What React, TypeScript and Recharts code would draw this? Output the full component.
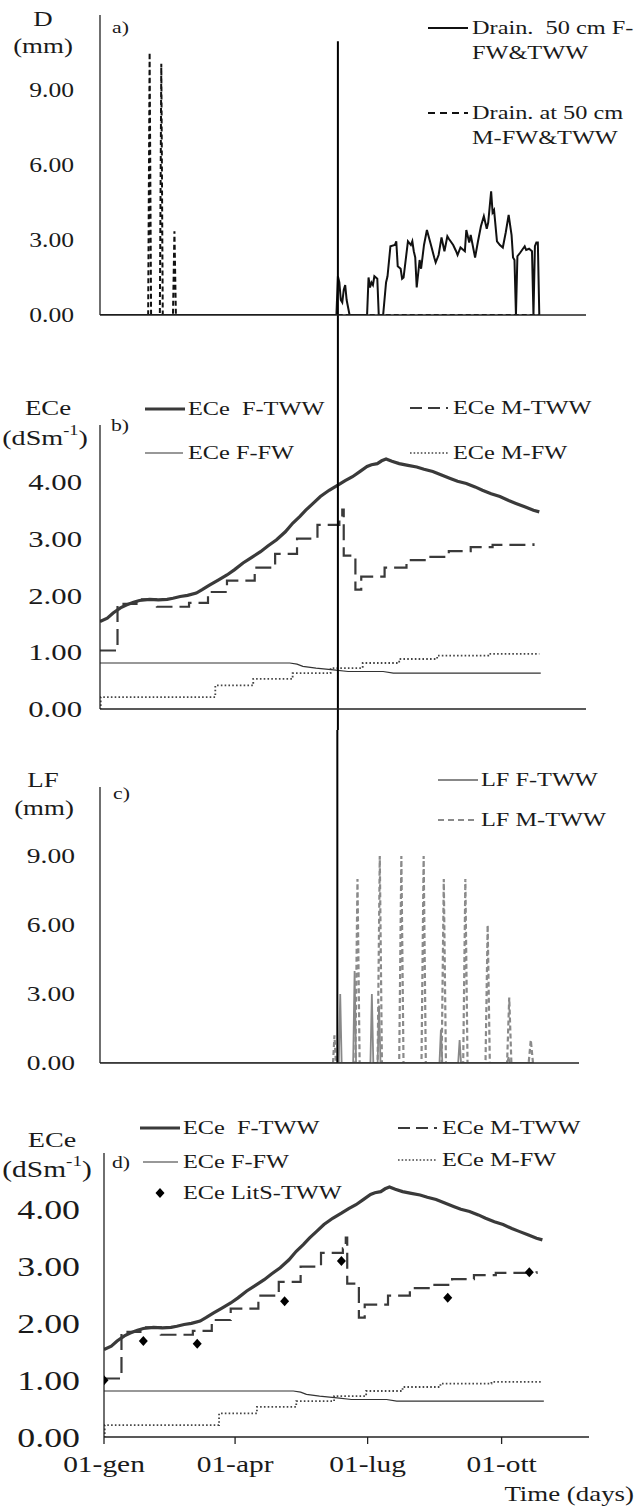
import React from 'react';
import { ComposedChart, Line, XAxis, YAxis, ReferenceLine } from 'recharts';

const FONT = '"Liberation Serif", "Times New Roman", serif';
const INK = '#1a1a1a';
const SX = 1.28; // horizontal stretch of the reference typography

// x axis: day of year
const MONTH_TICKS = [0, 90, 181, 273];
const MONTH_LABELS = ['01-gen', '01-apr', '01-lug', '01-ott'];
const X_DOMAIN: [number, number] = [0, 333];

// vertical marker (day of year)
const VLINE_DAY_AB = 163;
const VLINE_DAY_C = 165;

// ---- panel a) drainage at 50 cm (mm) ----
const DRAIN_F_FW_TWW = [
  [0, 0], [162, 0], [163, 1.55], [164, 1.3], [165, 0.6], [166, 0.5], [167, 1.0], [168, 1.2], [169, 0.6], [170, 0.3], [171, 0],
  [183, 0], [184, 1.5], [185, 1.1], [186, 1.3], [187, 1.2], [188, 1.55], [190, 1.45], [191, 0], [194, 0], [196, 1.3], [197, 1.55],
  [199, 2.75], [202, 2.8], [203, 2.95], [204, 1.95], [206, 1.85], [207, 1.45], [208, 1.5], [211, 2.95], [213, 2.8], [214, 2.95],
  [215, 2.55], [216, 2.3], [217, 1.1], [219, 2.2], [220, 1.85], [222, 2.8], [224, 3.4], [227, 2.75], [229, 2.3], [230, 2.1],
  [232, 2.4], [234, 3.1], [236, 2.55], [238, 3.15], [239, 3.05], [242, 2.8], [244, 2.55], [245, 2.4], [247, 2.7], [250, 2.55],
  [251, 3.4], [253, 2.9], [254, 3.2], [257, 2.3], [259, 2.95], [261, 3.55], [263, 3.95], [265, 3.45], [266, 3.7], [268, 4.95],
  [269, 4.1], [270, 4.2], [272, 2.95], [274, 2.8], [276, 2.7], [278, 3.3], [280, 4.0], [282, 3.2], [283, 2.3], [284, 2.2],
  [285, 0], [286, 2.35], [288, 2.5], [291, 2.75], [292, 2.6], [294, 2.65], [296, 2.55], [297, 0], [298, 2.75], [299, 2.9],
  [300, 2.9], [301, 0],
];
const DRAIN_M_FW_TWW = [
  [0, 0], [33, 0], [34, 10.5], [35, 0], [41, 0], [42, 10.05], [43, 0], [50, 0], [51, 3.35], [52, 0], [301, 0],
];
const D_TICKS = [0, 3, 6, 9];

// ---- panels b) and d) ECe (dS/m) ----
const ECE_F_TWW = [
  [0, 1.54], [5, 1.6], [9, 1.69], [14, 1.78], [18, 1.83], [23, 1.88], [27, 1.91], [34, 1.93], [40, 1.92], [46, 1.93],
  [50, 1.95], [55, 1.98], [60, 2.0], [66, 2.04], [70, 2.1], [75, 2.18], [81, 2.27], [87, 2.36], [92, 2.45], [98, 2.57],
  [104, 2.67], [110, 2.77], [115, 2.87], [121, 2.98], [127, 3.12], [132, 3.27], [137, 3.39], [141, 3.5], [146, 3.62],
  [151, 3.74], [157, 3.85], [163, 3.94], [168, 4.02], [173, 4.09], [178, 4.18], [183, 4.27], [186, 4.3], [190, 4.32],
  [193, 4.37], [196, 4.4], [200, 4.36], [205, 4.32], [211, 4.29], [217, 4.26], [222, 4.22], [228, 4.18], [234, 4.12],
  [240, 4.06], [245, 4.01], [251, 3.97], [257, 3.91], [262, 3.85], [268, 3.79], [274, 3.74], [280, 3.67], [285, 3.62],
  [291, 3.56], [297, 3.5], [301, 3.47],
];
const ECE_M_TWW = [
  [0, 1.03], [12, 1.85], [25, 1.93], [39, 1.8], [61, 1.87], [74, 2.06], [87, 2.26], [106, 2.49], [120, 2.73], [135, 3.0],
  [149, 3.24], [164, 3.32], [166, 3.51], [167, 2.7], [175, 2.1], [179, 2.33], [195, 2.49], [210, 2.62], [225, 2.68],
  [239, 2.78], [254, 2.85], [269, 2.89], [297, 2.92],
];
const ECE_F_FW = [
  [0, 0.81], [130, 0.81], [135, 0.79], [139, 0.75], [148, 0.72], [160, 0.69], [170, 0.66], [194, 0.66], [201, 0.63], [302, 0.63],
];
const ECE_M_FW = [
  [0, 0], [0.5, 0.21], [79, 0.415], [105, 0.53], [132, 0.63], [158, 0.72], [180, 0.81], [205, 0.88], [231, 0.94], [266, 0.97], [301, 0.97],
];
const ECE_LITS_TWW = [
  [0, 1.0], [27, 1.69], [64, 1.64], [124, 2.39], [163, 3.1], [236, 2.45], [292, 2.9],
];
const ECE_TICKS = [0, 1, 2, 3, 4];

// ---- panel c) leaching fraction (mm) ----
const LF_F_TWW = [
  [0, 0], [166, 0], [167, 3.0], [168, 0], [176, 0], [177, 4.0], [178, 0], [188, 0], [189, 3.0], [190, 0], [193, 0], [194, 2.5],
  [195, 0], [236, 0], [237, 1.45], [238, 0], [249, 0], [250, 1.0], [251, 0], [283, 0], [284, 0.25], [285, 0], [301, 0],
];
const LF_M_TWW = [
  [162, 0], [163, 1.2], [164, 0], [177.5, 0], [179, 8.0], [180.5, 0], [193, 0], [194.5, 9.0], [196, 0], [208, 0], [209.5, 9.0],
  [211, 0], [223.5, 0], [225, 9.0], [226.5, 0], [237.5, 0], [239, 8.0], [240.5, 0], [252.5, 0], [254, 8.0], [255.5, 0],
  [268, 0], [269.5, 6.0], [271, 0], [283, 0], [284.5, 2.85], [286, 0], [298, 0], [299.5, 1.0], [301, 0],
];
const LF_TICKS = [0, 3, 6, 9];

type P = { d: number; v: number };
const pts = (a: number[][]): P[] => a.map(([d, v]) => ({ d, v }));

const fmt2 = (v: number) => Number(v).toFixed(2);
const monthLabel = (v: number) => {
  const i = MONTH_TICKS.indexOf(v);
  return i >= 0 ? MONTH_LABELS[i] : '';
};

const axisStroke = { stroke: '#222', strokeWidth: 1.3 };

// stretched serif text
const T = ({ x, y, size, children, anchor = 'middle', baseline = 'central' }: any) => (
  <text
    transform={`translate(${x},${y}) scale(${SX},1)`}
    x={0}
    y={0}
    fontSize={size}
    fontFamily={FONT}
    fill={INK}
    textAnchor={anchor}
    dominantBaseline={baseline}
    style={{ whiteSpace: 'pre' }}
  >
    {children}
  </text>
);

const Unit = ({ x, y, size }: any) => (
  <text
    transform={`translate(${x},${y}) scale(${SX},1)`}
    x={0}
    y={0}
    fontSize={size}
    fontFamily={FONT}
    fill={INK}
    textAnchor="middle"
    dominantBaseline="central"
  >
    <tspan>(dSm</tspan>
    <tspan fontSize={size * 0.65} dy={-size * 0.35}>-1</tspan>
    <tspan dy={size * 0.35}>)</tspan>
  </text>
);

const makeYTick = (size: number) => (p: any) => {
  const { x, y, payload } = p;
  return (
    <T x={x} y={y} size={size} anchor="end">{fmt2(payload.value)}</T>
  );
};

const makeXTick = (size: number) => (p: any) => {
  const { x, y, payload } = p;
  return (
    <T x={x} y={y} size={size} anchor="middle" baseline="hanging">{monthLabel(payload.value)}</T>
  );
};

const Diamond = (p: any) => {
  const { cx, cy, index } = p;
  if (cx == null || cy == null) return <g key={`dm-${index}`} />;
  return (
    <path
      key={`dm-${index}`}
      d={`M${cx},${cy - 5} L${cx + 4.5},${cy} L${cx},${cy + 5} L${cx - 4.5},${cy} Z`}
      fill="#000"
    />
  );
};

export default function App() {
  return (
    <div style={{ position: 'absolute', left: 0, top: 0, width: 636, height: 1508, background: '#fff', overflow: 'hidden' }}>
      {/* a) */}
      <div style={{ position: 'absolute', left: 0, top: 0 }}>
        <ComposedChart width={636} height={330} margin={{ top: 15, right: 50, bottom: 0, left: 0 }}>
          <XAxis type="number" dataKey="d" domain={X_DOMAIN} ticks={MONTH_TICKS} tick={false} tickSize={7}
            height={15} axisLine={axisStroke} tickLine={axisStroke} allowDataOverflow />
          <YAxis type="number" domain={[0, 12]} ticks={D_TICKS} width={100} tickLine={false} tickSize={0} tickMargin={26}
            tick={makeYTick(20)} axisLine={axisStroke} allowDataOverflow interval={0} />
          <Line data={pts(DRAIN_M_FW_TWW)} dataKey="v" type="linear" stroke="#111" strokeWidth={2}
            strokeDasharray="5 3" dot={false} activeDot={false} isAnimationActive={false} />
          <Line data={pts(DRAIN_F_FW_TWW)} dataKey="v" type="linear" stroke="#111" strokeWidth={2}
            dot={false} activeDot={false} isAnimationActive={false} />
          <ReferenceLine segment={[{ x: VLINE_DAY_AB, y: 10.95 }, { x: VLINE_DAY_AB, y: -2 }]} ifOverflow="visible"
            stroke="#000" strokeWidth={2} />
        </ComposedChart>
      </div>

      {/* b) */}
      <div style={{ position: 'absolute', left: 0, top: 330 }}>
        <ComposedChart width={636} height={400} margin={{ top: 95, right: 50, bottom: 0, left: 0 }}>
          <XAxis type="number" dataKey="d" domain={X_DOMAIN} ticks={MONTH_TICKS} tick={false} tickSize={7}
            height={21} axisLine={axisStroke} tickLine={axisStroke} allowDataOverflow />
          <YAxis type="number" domain={[0, 5]} ticks={ECE_TICKS} width={100} tickLine={false} tickSize={0} tickMargin={18}
            tick={makeYTick(24)} axisLine={axisStroke} allowDataOverflow interval={0} />
          <Line data={pts(ECE_M_FW)} dataKey="v" type="stepAfter" stroke="#444" strokeWidth={1.8}
            strokeDasharray="1.6 2.2" dot={false} activeDot={false} isAnimationActive={false} />
          <Line data={pts(ECE_F_FW)} dataKey="v" type="linear" stroke="#333" strokeWidth={1.2}
            dot={false} activeDot={false} isAnimationActive={false} />
          <Line data={pts(ECE_M_TWW)} dataKey="v" type="stepAfter" stroke="#3a3a3a" strokeWidth={2.2}
            strokeDasharray="16 7" dot={false} activeDot={false} isAnimationActive={false} />
          <Line data={pts(ECE_F_TWW)} dataKey="v" type="linear" stroke="#3a3a3a" strokeWidth={3.2}
            dot={false} activeDot={false} isAnimationActive={false} />
          <ReferenceLine segment={[{ x: VLINE_DAY_AB, y: 7.5 }, { x: VLINE_DAY_AB, y: -1 }]} ifOverflow="visible"
            stroke="#000" strokeWidth={2} />
        </ComposedChart>
      </div>

      {/* c) */}
      <div style={{ position: 'absolute', left: 0, top: 730 }}>
        <ComposedChart width={636} height={370} margin={{ top: 57, right: 57, bottom: 0, left: 0 }}>
          <XAxis type="number" dataKey="d" domain={X_DOMAIN} ticks={MONTH_TICKS} tick={false} tickSize={7}
            height={37} axisLine={axisStroke} tickLine={axisStroke} allowDataOverflow />
          <YAxis type="number" domain={[0, 12]} ticks={LF_TICKS} width={100} tickLine={false} tickSize={0} tickMargin={25}
            tick={makeYTick(21.5)} axisLine={axisStroke} allowDataOverflow interval={0} />
          <Line data={pts(LF_M_TWW)} dataKey="v" type="linear" stroke="#8a8a8a" strokeWidth={2.2}
            strokeDasharray="5 3" dot={false} activeDot={false} isAnimationActive={false} />
          <Line data={pts(LF_F_TWW)} dataKey="v" type="linear" stroke="#888" strokeWidth={1.8}
            dot={false} activeDot={false} isAnimationActive={false} />
          <ReferenceLine segment={[{ x: VLINE_DAY_C, y: 16 }, { x: VLINE_DAY_C, y: 0 }]} ifOverflow="visible"
            stroke="#000" strokeWidth={2} />
        </ComposedChart>
      </div>

      {/* d) */}
      <div style={{ position: 'absolute', left: 0, top: 1100 }}>
        <ComposedChart width={636} height={408} margin={{ top: 53, right: 47, bottom: 0, left: 0 }}>
          <XAxis type="number" dataKey="d" domain={X_DOMAIN} ticks={MONTH_TICKS} tick={makeXTick(23)}
            tickSize={7} tickMargin={11} height={71} axisLine={axisStroke} tickLine={axisStroke} allowDataOverflow interval={0} />
          <YAxis type="number" domain={[0, 5]} ticks={ECE_TICKS} width={104} tickLine={false} tickSize={0} tickMargin={24}
            tick={makeYTick(28)} axisLine={axisStroke} allowDataOverflow interval={0} />
          <Line data={pts(ECE_M_FW)} dataKey="v" type="stepAfter" stroke="#444" strokeWidth={1.8}
            strokeDasharray="1.6 2.2" dot={false} activeDot={false} isAnimationActive={false} />
          <Line data={pts(ECE_F_FW)} dataKey="v" type="linear" stroke="#333" strokeWidth={1.2}
            dot={false} activeDot={false} isAnimationActive={false} />
          <Line data={pts(ECE_M_TWW)} dataKey="v" type="stepAfter" stroke="#3a3a3a" strokeWidth={2.2}
            strokeDasharray="16 7" dot={false} activeDot={false} isAnimationActive={false} />
          <Line data={pts(ECE_F_TWW)} dataKey="v" type="linear" stroke="#3a3a3a" strokeWidth={3.2}
            dot={false} activeDot={false} isAnimationActive={false} />
          <Line data={pts(ECE_LITS_TWW)} dataKey="v" type="linear" stroke="none" strokeWidth={0}
            dot={Diamond} activeDot={false} isAnimationActive={false} />
        </ComposedChart>
      </div>

      {/* titles and legends */}
      <svg width={636} height={1508} style={{ position: 'absolute', left: 0, top: 0, pointerEvents: 'none' }}>
        {/* a */}
        <T x={43} y={19} size={21}>D</T>
        <T x={43} y={46} size={21}>(mm)</T>
        <T x={112} y={27} size={17} anchor="start">a)</T>
        <line x1={428} x2={468} y1={28} y2={28} stroke="#111" strokeWidth={2} />
        <T x={472} y={28} size={19} anchor="start">{'Drain.  50 cm F-'}</T>
        <T x={472} y={53} size={19} anchor="start">FW&amp;TWW</T>
        <line x1={428} x2={468} y1={113} y2={113} stroke="#111" strokeWidth={2} strokeDasharray="7 5" />
        <T x={472} y={113} size={19} anchor="start">Drain. at 50 cm</T>
        <T x={472} y={138} size={19} anchor="start">M-FW&amp;TWW</T>

        {/* b */}
        <T x={48} y={408} size={21}>ECe</T>
        <Unit x={45} y={437} size={22} />
        <T x={111} y={425} size={17} anchor="start">b)</T>
        <line x1={145} x2={185} y1={409} y2={409} stroke="#3a3a3a" strokeWidth={3.2} />
        <T x={188} y={409} size={19} anchor="start">{'ECe  F-TWW'}</T>
        <line x1={145} x2={183} y1={453} y2={453} stroke="#333" strokeWidth={1.2} />
        <T x={188} y={453} size={19} anchor="start">ECe F-FW</T>
        <line x1={410} x2={448} y1={408} y2={408} stroke="#3a3a3a" strokeWidth={2} strokeDasharray="12 6" />
        <T x={453} y={408} size={19} anchor="start">ECe M-TWW</T>
        <line x1={410} x2={448} y1={453} y2={453} stroke="#444" strokeWidth={1.6} strokeDasharray="1.6 2" />
        <T x={453} y={453} size={19} anchor="start">ECe M-FW</T>

        {/* c */}
        <T x={43} y={780} size={21}>LF</T>
        <T x={44} y={808} size={21}>(mm)</T>
        <T x={113} y={793} size={17} anchor="start">c)</T>
        <line x1={438} x2={478} y1={780} y2={780} stroke="#888" strokeWidth={1.8} />
        <T x={481} y={780} size={19} anchor="start">LF F-TWW</T>
        <line x1={438} x2={478} y1={820} y2={820} stroke="#8a8a8a" strokeWidth={2} strokeDasharray="6 4" />
        <T x={481} y={820} size={19} anchor="start">LF M-TWW</T>

        {/* d */}
        <T x={52} y={1139} size={22}>ECe</T>
        <Unit x={47} y={1169} size={23} />
        <T x={112} y={1162} size={17} anchor="start">d)</T>
        <line x1={140} x2={180} y1={1128} y2={1128} stroke="#3a3a3a" strokeWidth={3.2} />
        <T x={183} y={1128} size={19} anchor="start">{'ECe  F-TWW'}</T>
        <line x1={143} x2={178} y1={1162} y2={1162} stroke="#333" strokeWidth={1.2} />
        <T x={183} y={1162} size={19} anchor="start">ECe F-FW</T>
        <path d="M160,1188 L164.5,1193 L160,1198 L155.5,1193 Z" fill="#000" />
        <T x={183} y={1193} size={19} anchor="start">ECe LitS-TWW</T>
        <line x1={398} x2={437} y1={1128} y2={1128} stroke="#3a3a3a" strokeWidth={2} strokeDasharray="12 6" />
        <T x={442} y={1128} size={19} anchor="start">ECe M-TWW</T>
        <line x1={398} x2={437} y1={1160} y2={1160} stroke="#444" strokeWidth={1.6} strokeDasharray="1.6 2" />
        <T x={442} y={1160} size={19} anchor="start">ECe M-FW</T>
        <T x={634} y={1494} size={21} anchor="end">Time (days)</T>
      </svg>
    </div>
  );
}
